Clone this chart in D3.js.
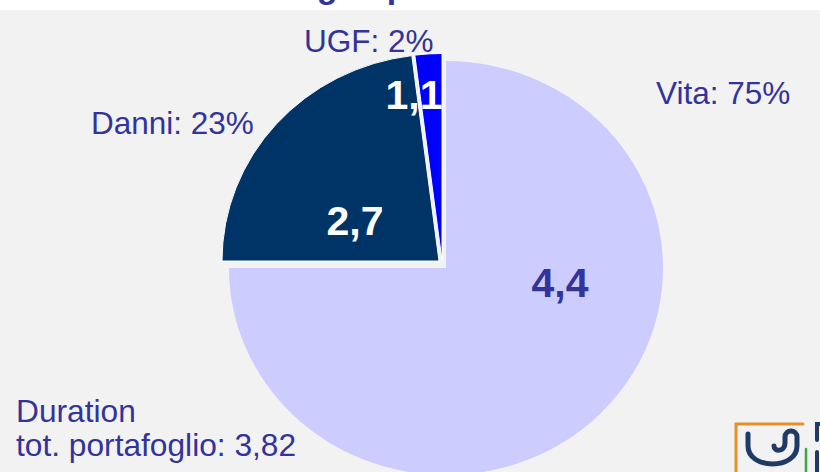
<!DOCTYPE html>
<html>
<head>
<meta charset="utf-8">
<script src="https://cdn.jsdelivr.net/npm/d3@7"></script>
<style>
	body { margin: 0; background: #f2f2f2; }
	svg { display: block; font-family: "Liberation Sans", Arial, sans-serif; }
</style>
</head>
<body>
<svg></svg>
<script>
// data
var categories = ["Vita", "Danni", "UGF"];
var shares = [75, 23, 2];          // % of portfolio
var durations = [4.4, 2.7, 1.1];   // duration per segment
var totalDuration = 3.82;
var colors = ["#ccccff", "#003366", "#0000ff"];

var width = 820,
	height = 472;

var svg = d3.select("svg")
	.attr("width", width)
	.attr("height", height);

// background
svg.append("rect")
	.attr("width", width)
	.attr("height", height)
	.attr("fill", "#f2f2f2");
svg.append("rect")
	.attr("width", width)
	.attr("height", 10)
	.attr("fill", "#ffffff");

// title, cut off at the top of the slide
svg.append("text")
	.attr("x", 109)
	.attr("y", -2)
	.attr("fill", "#333399")
	.style("font-size", "34px")
	.style("font-weight", "bold")
	.text("Duration a luglio per ramo");

var fmt = function(v) {
	return String(v).replace(".", ",");
};

// pie layout
var cx = 446,
	cy = 268,
	radius = 217,
	squash = 0.954;

var pie = d3.pie()
	.sort(null)
	.value(function(d) { return d.share; });

var arc = d3.arc()
	.innerRadius(0)
	.outerRadius(radius);

var data = categories.map(function(c, i) {
	return { name: c, share: shares[i], duration: durations[i], color: colors[i] };
});

// exploded slices
var explode = { Vita: [0, 0], Danni: [-7, -7], UGF: [-4, -7.5] };

var pieG = svg.append("g")
	.attr("transform", "translate(" + cx + "," + cy + ") scale(1," + squash + ")");

pieG.selectAll("path")
	.data(pie(data))
	.enter()
	.append("path")
	.attr("transform", function(d) {
		var o = explode[d.data.name];
		return "translate(" + o[0] + "," + (o[1] / squash) + ")";
	})
	.attr("d", arc)
	.attr("fill", function(d) { return d.data.color; })
	.attr("stroke", function(d) { return d.data.name == "Vita" ? "none" : "#ffffff"; })
	.attr("stroke-width", 1);

// category labels
var labelPos = {
	Vita: [656, 104],
	Danni: [91, 134],
	UGF: [304, 52]
};
svg.selectAll("text.cat")
	.data(data)
	.enter()
	.append("text")
	.attr("class", "cat")
	.attr("x", function(d) { return labelPos[d.name][0]; })
	.attr("y", function(d) { return labelPos[d.name][1]; })
	.attr("fill", "#333399")
	.style("font-size", "31.5px")
	.text(function(d) { return d.name + ": " + d.share + "%"; });

// duration values inside slices
var valuePos = {
	Vita: [560, 297],
	Danni: [355, 235],
	UGF: [414, 109]
};
svg.selectAll("text.val")
	.data(data)
	.enter()
	.append("text")
	.attr("class", "val")
	.attr("x", function(d) { return valuePos[d.name][0]; })
	.attr("y", function(d) { return valuePos[d.name][1]; })
	.attr("text-anchor", "middle")
	.attr("fill", function(d) { return d.name == "Vita" ? "#333399" : "#ffffff"; })
	.style("font-size", "41px")
	.style("font-weight", "bold")
	.text(function(d) { return fmt(d.duration); });

// total duration note
var note = svg.append("text")
	.attr("fill", "#333399")
	.style("font-size", "31.7px");
note.append("tspan")
	.attr("x", 16)
	.attr("y", 422)
	.text("Duration");
note.append("tspan")
	.attr("x", 16)
	.attr("y", 456)
	.text("tot. portafoglio: " + fmt(totalDuration));

// logo, partly visible in the corner
var logo = svg.append("g")
	.attr("fill", "none")
	.attr("stroke-linecap", "round");
logo.append("path")
	.attr("d", "M736,472 L736,424 L803,424")
	.attr("stroke", "#e8902a")
	.attr("stroke-width", 3);
logo.append("path")
	.attr("d", "M748,434 L748,446 C748,470 797,470 797,446 L797,437 C797,429 785,429 785,437 L785,443 C785,452 774,452 774,446")
	.attr("stroke", "#1f3a66")
	.attr("stroke-width", 5);
logo.append("path")
	.attr("d", "M806,449 L806,472")
	.attr("stroke", "#3aa845")
	.attr("stroke-width", 2.5);
logo.append("path")
	.attr("d", "M820,424 L817,424 L817,440 M817,452 L817,472")
	.attr("stroke", "#1f3a66")
	.attr("stroke-width", 4);
</script>
</body>
</html>
